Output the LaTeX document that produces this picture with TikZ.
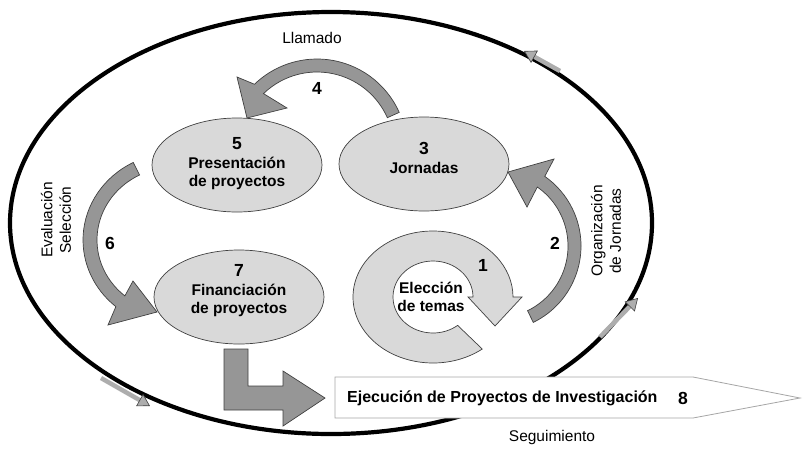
\documentclass[tikz,border=0pt]{standalone}
\usepackage{fontspec}
\setmainfont{Liberation Sans}
\usetikzlibrary{shapes.geometric,arrows.meta,calc}

\definecolor{palegray}{gray}{0.85}
\definecolor{midgray}{gray}{0.59}
\definecolor{edgegray}{gray}{0.25}
\definecolor{railgray}{gray}{0.68}

\newcommand{\tagfont}{\fontsize{15.5}{18.5}\selectfont}
\newcommand{\digitfont}{\fontsize{17.5}{20}\selectfont\bfseries}

\tikzset{
  bubble/.style={ellipse, draw=edgegray, fill=palegray, line width=0.7pt,
    minimum width=170pt, minimum height=94pt, inner sep=0pt},
  caption/.style={font=\tagfont\bfseries, align=center, inner sep=0pt},
  band/.style={draw=edgegray, fill=midgray, line width=0.7pt},
  ring/.style={draw=edgegray, fill=palegray, line width=0.7pt},
  tag/.style={font=\tagfont, align=center, inner sep=0pt},
  num/.style={font=\digitfont, inner sep=0pt},
  rail/.style={line width=4.5pt, railgray,
    -{Triangle[length=12pt,width=14pt,fill=railgray,color=edgegray,line width=0.6pt]}}
}

\begin{document}
\begin{tikzpicture}[x=1pt,y=-1pt]
\useasboundingbox (0,0) rectangle (803,448);

% outer cycle
\draw[line width=4.2pt] (331,223) ellipse [x radius=321, y radius=211];
\draw[rail] (560,71) -- (524,51);
\draw[rail] (600,337) -- (638,298);
\draw[rail] (101,378) -- (150,406);

% 8
\draw[draw=gray!70, fill=white, line width=0.8pt] (335,377) -- (693,377) -- (800,398) -- (693,418) -- (335,418) -- cycle;
\node[caption, font=\fontsize{16}{19}\selectfont\bfseries, anchor=west] (exec) at (347,398) {Ejecución de Proyectos de Investigación};
\node[num] (n8) at (683,398) {8};
\node[tag] (seg) at (552,437) {Seguimiento};

% stages
\node[bubble] (pres) at (237,165) {};
\node[bubble] (jorn) at (424,164) {};
\node[bubble] (fin) at (239,297) {};
\node[caption] (pres-t) at (237,164) {{\digitfont 5}\\Presentación\\de proyectos};
\node[caption] (jorn-t) at (424,158) {{\digitfont 3}\\Jornadas};
\node[caption] (fin-t) at (239,291) {{\digitfont 7}\\Financiación\\de proyectos};

% 1
\coordinate (c1) at (433,297);
\draw[ring] ($(c1)+(52:80 and 66)$) arc[start angle=52, end angle=360, x radius=80, y radius=66]
  -- (522,297) -- (495,326) -- (468,297)
  -- ($(c1)+(0:40 and 36)$) arc[start angle=360, end angle=52, x radius=40, y radius=36] -- cycle;
\node[caption] (elec) at (431,297) {Elección\\de temas};
\node[num] (n1) at (483,265) {1};

% 2
\coordinate (c2) at (496,246);
\draw[band] ($(c2)+(64:85)$) arc[start angle=64, end angle=-55, radius=85]
  -- (554,159) -- (508,172) -- (527,207)
  -- ($(c2)+(-55:72)$) arc[start angle=-55, end angle=64, radius=72] -- cycle;
\node[num] (n2) at (555,243) {2};
\node[tag, rotate=90] (org) at (606,231) {Organización\\de Jornadas};

% 4
\coordinate (c4) at (317,149);
\draw[band] ($(c4)+(-24:90)$) arc[start angle=-24, end angle=-134, radius=90]
  -- (237,77) -- (247,118) -- (287,108)
  -- ($(c4)+(-134:77)$) arc[start angle=-134, end angle=-24, radius=77] -- cycle;
\node[num] (n4) at (317,88) {4};
\node[tag] (llam) at (312,38) {Llamado};

% 6
\coordinate (c6) at (175,240);
\draw[band] ($(c6)+(243:92 and 87)$) arc[start angle=243, end angle=130, x radius=92, y radius=87]
  -- (108,325) -- (157,312) -- (133,281)
  -- ($(c6)+(130:78 and 73)$) arc[start angle=130, end angle=243, x radius=78, y radius=73] -- cycle;
\node[num] (n6) at (110,243) {6};
\node[tag, rotate=90] (eval) at (56,220) {Evaluación\\Selección};

% 7 -> 8
\draw[band] (224,349) -- (248,349) -- (248,386) -- (283,386) -- (283,371) -- (325,398)
  -- (283,426) -- (283,410) -- (224,410) -- cycle;
\end{tikzpicture}
\end{document}
